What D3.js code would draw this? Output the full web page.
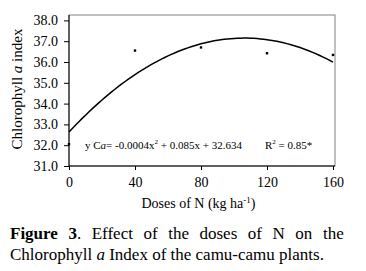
<!DOCTYPE html>
<html><head><meta charset="utf-8">
<script src="https://cdn.jsdelivr.net/npm/d3@7"></script>
</head>
<body style="margin:0">
<svg id="c" width="366" height="271"></svg>
<script>
const doses = [0, 40, 80, 120, 160];
const chlorophyll = [32.05, 36.55, 36.7, 36.42, 36.34];
const coef = [-0.0004, 0.085, 32.634];
const xTicks = [0, 40, 80, 120, 160];
const yTicks = [31, 32, 33, 34, 35, 36, 37, 38];

const FF = "'Liberation Serif'";
const svg = d3.select("#c");
const x = d3.scaleLinear().domain([0, 160]).range([69, 333]);
const y = d3.scaleLinear().domain([31, 38]).range([166, 20.4]);

// frame
svg.append("rect").attr("x", 69).attr("y", 15).attr("width", 335 - 69).attr("height", 166 - 15)
  .attr("fill", "none").attr("stroke", "#808080").attr("stroke-width", 1);

// axes
const ya = svg.append("g").attr("transform", "translate(69,0)")
  .call(d3.axisLeft(y).tickValues(yTicks).tickFormat(d3.format(".1f")).tickSizeOuter(0).tickSize(5).tickPadding(6));
const xa = svg.append("g").attr("transform", "translate(0,166)")
  .call(d3.axisBottom(x).tickValues(xTicks).tickSizeOuter(0).tickSize(4).tickPadding(7));
[ya, xa].forEach(g => {
  g.attr("font-family", null).attr("font-size", null);
  g.select(".domain").attr("stroke", "#000");
  g.selectAll("line").attr("stroke", "#000");
  g.selectAll("text").style("font-family", FF).style("font-size", "14px").attr("fill", "#000");
});
ya.select(".domain").attr("d", "M0,15V166");
xa.select(".domain").attr("d", "M69,0H335");

// fitted curve
const xs = d3.range(0, 160.01, 2);
const line = d3.line().x(d => x(d)).y(d => y(coef[0] * d * d + coef[1] * d + coef[2]));
svg.append("path").datum(xs).attr("d", line).attr("fill", "none").attr("stroke", "#000").attr("stroke-width", 1.5);

// points
svg.selectAll(".pt").data(doses).enter().append("rect").attr("class", "pt")
  .attr("x", (d) => x(d) - 1.2).attr("y", (d, i) => y(chlorophyll[i]) - 1.2)
  .attr("width", 2.4).attr("height", 2.4).attr("fill", "#000");

function T(xp, yp, size) {
  return svg.append("text").attr("x", xp).attr("y", yp).style("font-family", FF).style("font-size", size + "px").attr("fill", "#000");
}

// equation
const eq = T(85, 149, 11);
eq.append("tspan").text("y C");
eq.append("tspan").style("font-style", "italic").text("a");
eq.append("tspan").text("= -0.0004x");
eq.append("tspan").attr("dy", -5).style("font-size", "7px").text("2");
eq.append("tspan").attr("dy", 5).text(" + 0.085x + 32.634");
const r2 = T(265, 149, 11);
r2.append("tspan").text("R");
r2.append("tspan").attr("dy", -5).style("font-size", "7px").text("2");
r2.append("tspan").attr("dy", 5).text(" = 0.85*");

// y label
const yl = svg.append("text").attr("transform", "translate(22,89) rotate(-90)").attr("text-anchor", "middle")
  .style("font-family", FF).style("font-size", "15px").attr("fill", "#000");
yl.append("tspan").text("Chlorophyll   ");
yl.append("tspan").style("font-style", "italic").text("a");
yl.append("tspan").text(" index");

// x label
const xl = T(198.5, 208, 14).attr("text-anchor", "middle");
xl.append("tspan").text("Doses of N (kg ha");
xl.append("tspan").attr("dy", -5).style("font-size", "9px").text("-1");
xl.append("tspan").attr("dy", 5).text(")");

// caption
const c1 = T(10, 239, 17).attr("word-spacing", 6.3);
c1.append("tspan").style("font-weight", "bold").text("Figure 3");
c1.append("tspan").text(". Effect of the doses of N on the");
const c2 = T(10, 260, 17);
c2.append("tspan").text("Chlorophyll ");
c2.append("tspan").style("font-style", "italic").text("a");
c2.append("tspan").text(" Index of the camu-camu plants.");
</script>
</body></html>
